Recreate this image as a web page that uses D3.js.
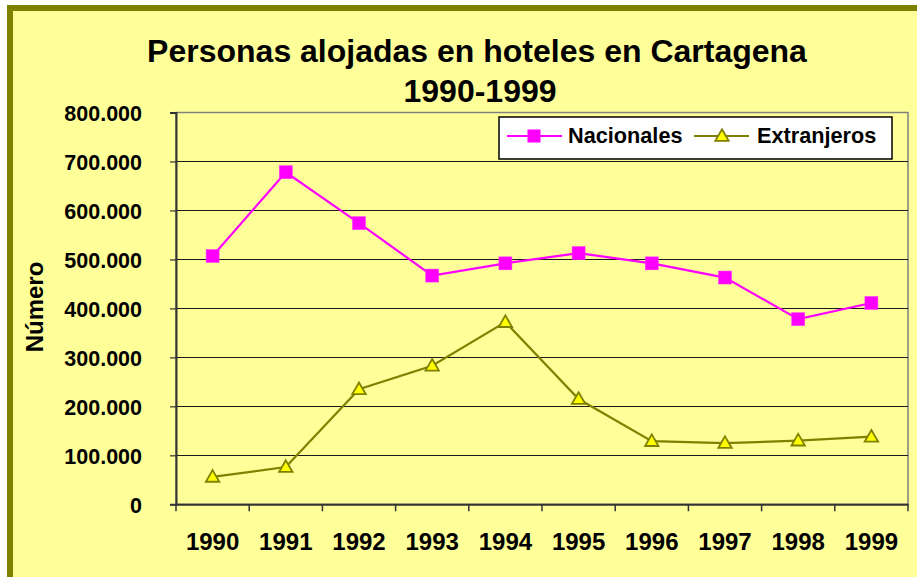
<!DOCTYPE html>
<html>
<head>
<meta charset="utf-8">
<script src="https://cdn.jsdelivr.net/npm/d3@7"></script>
<style>
  html, body { margin: 0; padding: 0; background: #ffffff; }
  svg { display: block; }
  text { font-family: "Liberation Sans", Arial, sans-serif; font-weight: bold; fill: #000; }
</style>
</head>
<body>
<svg id="chart" width="917" height="577"></svg>
<script>
const years = ["1990","1991","1992","1993","1994","1995","1996","1997","1998","1999"];
const nacionales = [507000, 678000, 574000, 467000, 492000, 513000, 492000, 463000, 378000, 411000];
const extranjeros = [56000, 76000, 235000, 283000, 372000, 215000, 129000, 125000, 130000, 138000];
const yTicks = [0, 100000, 200000, 300000, 400000, 500000, 600000, 700000, 800000];
const titleLines = ["Personas alojadas en hoteles en Cartagena", "1990-1999"];
const yTitle = "Número";
const seriesNames = ["Nacionales", "Extranjeros"];

const svg = d3.select("#chart");
const W = 917, H = 577;

// chart area background + olive frame
svg.append("rect").attr("x", 0).attr("y", 0).attr("width", W).attr("height", H).attr("fill", "#ffffff");
svg.append("rect").attr("x", 10).attr("y", 8).attr("width", W + 20).attr("height", H + 20)
  .attr("fill", "#FFFF99").attr("stroke", "#808000").attr("stroke-width", 6);

const plot = {left: 176, top: 112.5, right: 908, bottom: 504.3};

const x = d3.scaleBand().domain(years).range([plot.left, plot.right]).padding(0);
const y = d3.scaleLinear().domain([0, 800000]).range([plot.bottom, plot.top]);
const cx = d => x(d) + x.bandwidth() / 2;

const loc = d3.formatLocale({decimal: ",", thousands: ".", grouping: [3], currency: ["$", ""]});
const fmt = loc.format(",");

// plot area border (gray top & right)
svg.append("rect").attr("x", plot.left).attr("y", plot.top)
  .attr("width", plot.right - plot.left).attr("height", plot.bottom - plot.top)
  .attr("fill", "#FFFF99").attr("stroke", "#808080").attr("stroke-width", 1.5);

// gridlines
svg.append("g").selectAll("line").data(yTicks.filter(t => t > 0 && t < 800000)).join("line")
  .attr("x1", plot.left).attr("x2", plot.right)
  .attr("y1", d => Math.round(y(d)) + 0.5).attr("y2", d => Math.round(y(d)) + 0.5)
  .attr("stroke", "#1a1a1a").attr("stroke-width", 1.2);

// y axis
const yAxis = svg.append("g").attr("transform", `translate(${plot.left},0)`)
  .call(d3.axisLeft(y).tickValues(yTicks).tickFormat(fmt).tickSize(6).tickPadding(28));
yAxis.select(".domain").attr("stroke", "#333").attr("stroke-width", 2);
yAxis.selectAll(".tick line").attr("stroke", "#333").attr("stroke-width", 1.2);
yAxis.selectAll(".tick text").style("font-size", "21.5px").style("font-family", "Liberation Sans, Arial, sans-serif")
  .style("font-weight", "bold").attr("fill", "#000").attr("dy", "0.36em");

// x axis
const xAxis = svg.append("g").attr("transform", `translate(0,${plot.bottom})`)
  .call(d3.axisBottom(x).tickSize(0).tickPadding(29));
xAxis.select(".domain").attr("stroke", "#333").attr("stroke-width", 2);
xAxis.selectAll(".tick text").style("font-size", "24px").style("font-family", "Liberation Sans, Arial, sans-serif")
  .style("font-weight", "bold").attr("fill", "#000");
// category boundary ticks
svg.append("g").selectAll("line").data(years.concat(["end"])).join("line")
  .attr("x1", (d, i) => i < years.length ? x(d) : plot.right)
  .attr("x2", (d, i) => i < years.length ? x(d) : plot.right)
  .attr("y1", plot.bottom).attr("y2", plot.bottom + 7)
  .attr("stroke", "#333").attr("stroke-width", 1.5);

// lines
const line = d3.line().x((d, i) => cx(years[i])).y(d => y(d));
svg.append("path").datum(nacionales).attr("d", line).attr("fill", "none")
  .attr("stroke", "#FF00FF").attr("stroke-width", 2.2);
svg.append("path").datum(extranjeros).attr("d", line).attr("fill", "none")
  .attr("stroke", "#808000").attr("stroke-width", 2.2);

// markers
const sq = 13;
svg.append("g").selectAll("rect").data(nacionales).join("rect")
  .attr("x", (d, i) => cx(years[i]) - sq / 2).attr("y", d => y(d) - sq / 2)
  .attr("width", sq).attr("height", sq).attr("fill", "#FF00FF").attr("stroke", "#FF33FF").attr("stroke-width", 0.5);

const tri = d3.symbol().type(d3.symbolTriangle).size(78);
svg.append("g").selectAll("path").data(extranjeros).join("path")
  .attr("d", tri).attr("transform", (d, i) => `translate(${cx(years[i])},${y(d) + 1})`)
  .attr("fill", "#FFFF00").attr("stroke", "#808000").attr("stroke-width", 1.8);

// title
svg.append("text").attr("x", 477).attr("y", 62).attr("text-anchor", "middle")
  .style("font-size", "32px").text(titleLines[0]);
svg.append("text").attr("x", 480).attr("y", 102).attr("text-anchor", "middle")
  .style("font-size", "32px").text(titleLines[1]);

// y title
svg.append("text").attr("transform", "translate(43,307) rotate(-90)").attr("text-anchor", "middle")
  .style("font-size", "24px").text(yTitle);

// legend
const lg = svg.append("g");
lg.append("rect").attr("x", 499).attr("y", 117).attr("width", 393).attr("height", 42)
  .attr("fill", "#ffffff").attr("stroke", "#000").attr("stroke-width", 1.5);
lg.append("line").attr("x1", 507).attr("x2", 562).attr("y1", 136).attr("y2", 136)
  .attr("stroke", "#FF00FF").attr("stroke-width", 2.2);
lg.append("rect").attr("x", 534 - sq / 2).attr("y", 136 - sq / 2).attr("width", sq).attr("height", sq)
  .attr("fill", "#FF00FF");
lg.append("text").attr("x", 568).attr("y", 143).style("font-size", "21.7px").text(seriesNames[0]);
lg.append("line").attr("x1", 694).attr("x2", 749).attr("y1", 136).attr("y2", 136)
  .attr("stroke", "#808000").attr("stroke-width", 2.2);
lg.append("path").attr("d", tri).attr("transform", "translate(722,137)")
  .attr("fill", "#FFFF00").attr("stroke", "#808000").attr("stroke-width", 1.8);
lg.append("text").attr("x", 757).attr("y", 143).style("font-size", "21.7px").text(seriesNames[1]);
</script>
</body>
</html>
